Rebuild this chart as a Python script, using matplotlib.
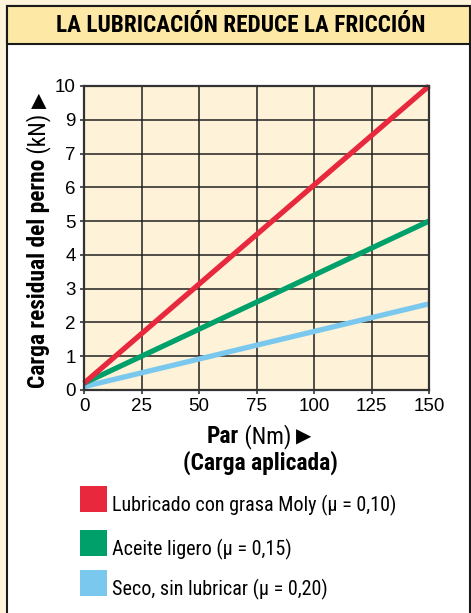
import matplotlib
matplotlib.use("Agg")
import matplotlib.pyplot as plt
from matplotlib import font_manager
from matplotlib.font_manager import FontProperties
from matplotlib.patches import Rectangle

# par aplicado (Nm) y carga residual (posición en la escala del eje)
par = [0, 150]
moly = [0.2, 9.0]
aceite = [0.2, 5.0]
seco = [0.1, 2.55]

x_ticks = [0, 25, 50, 75, 100, 125, 150]
y_ticks = [0, 1, 2, 3, 4, 5, 6, 7, 8, 9]
y_labels = ["0", "1", "2", "3", "4", "5", "6", "7", "9", "10"]

series = ["Lubricado con grasa Moly (μ = 0,10)",
          "Aceite ligero (μ = 0,15)",
          "Seco, sin lubricar (μ = 0,20)"]
colors = ["#e8283c", "#00a06a", "#7bc8ef"]

W, H = 471, 613
REG = ["Liberation Sans", "DejaVu Sans"]


def is_narrow(f):
    n = f.name
    if "Semi" in n or "Extra" in n or "Ultra" in n:
        return False
    return f.stretch == "condensed" or "Condensed" in n or "Narrow" in n


def pick(weight):
    # busca un fichero de fuente estrecha con el peso pedido
    fl = [f for f in font_manager.fontManager.ttflist
          if is_narrow(f) and f.style == "normal" and f.weight == weight]
    fl.sort(key=lambda f: (0 if "Liberation" in f.name else 1 if "Roboto" in f.name else 2, f.fname))
    if fl:
        return FontProperties(fname=fl[0].fname)
    return FontProperties(family=REG, weight="bold" if weight >= 700 else "normal")


FP_B = pick(700)
FP_R = pick(400)
FP_SYM = FontProperties(family="DejaVu Sans")

fig = plt.figure(figsize=(W / 100, H / 100), dpi=100, facecolor="#fef4dc")
rend = fig.canvas.get_renderer()


def fx(x):
    return x / W


def fy(y):
    return 1 - y / H


def box(x0, y0, x1, y1, **kw):
    fig.add_artist(Rectangle((fx(x0), fy(y1)), fx(x1) - fx(x0), fy(y0) - fy(y1),
                             transform=fig.transFigure, zorder=-5, **kw))


def txt(x, y, s, fp, size, **kw):
    fp = fp.copy()
    fp.set_size(size)
    return fig.text(x, y, s, fontproperties=fp, **kw)


def fit(t, target):
    # ajusta el tamaño de letra para que el texto ocupe 'target' píxeles de ancho
    t.set_fontsize(t.get_fontsize() * target / t.get_window_extent(rend).width)
    return t


# marco y cabecera
box(7, 6, 470, 640, facecolor="white", edgecolor="#1a1a1a", lw=1.5)
box(7, 6, 470, 44, facecolor="#fde8a6", edgecolor="#1a1a1a", lw=1.5)
fit(txt(fx(241), fy(25), "LA LUBRICACIÓN REDUCE LA FRICCIÓN", FP_B, 16,
        ha="center", va="center"), 368)

ax = fig.add_axes([fx(84), fy(390), fx(429) - fx(84), fy(86) - fy(390)])
ax.set_facecolor("#fef3d8")
ax.set_xlim(0, 150)
ax.set_ylim(0, 9)
ax.set_xticks(x_ticks)
ax.set_yticks(y_ticks)
ax.set_yticklabels(y_labels)
ax.grid(True, color="#222222", lw=1.1)
ax.set_axisbelow(True)
for s in ax.spines.values():
    s.set_color("#333333")
    s.set_linewidth(1.6)
ax.tick_params(length=3, width=1.2, color="#333333", labelsize=13.5, pad=3)
for lab in ax.get_xticklabels() + ax.get_yticklabels():
    lab.set_family(REG)

for ys, c in zip([seco, aceite, moly], colors[::-1]):
    ax.plot(par, ys, color=c, lw=3.8, solid_capstyle="butt", clip_on=False)

# título del eje Y en trozos (negrita + normal), girado
parts = [("Carga residual del perno", FP_B), (" (kN) ", FP_R), ("▶", FP_SYM)]
tmp = [txt(0, 0, p, fp, 14) for p, fp in parts]
total = sum(t.get_window_extent(rend).width for t in tmp)
fs = 14 * 300 / total
for t in tmp:
    t.remove()
yy = fy(388)
for p, fp in parts:
    sz = fs * 0.85 if fp is FP_SYM else fs
    t = txt(fx(45), yy, p, fp, sz, rotation=90, rotation_mode="anchor", ha="left",
            va="baseline")
    yy += t.get_window_extent(rend).height / fig.bbox.height

# título del eje X
parts = [("Par", FP_B), (" (Nm) ", FP_R), ("▶", FP_SYM)]
tmp = [txt(0, 0, p, fp, fs * 0.85 if fp is FP_SYM else fs) for p, fp in parts]
widths = [t.get_window_extent(rend).width for t in tmp]
for t in tmp:
    t.remove()
xx = fx(259) - sum(widths) / 2 / fig.bbox.width
for (p, fp), wd in zip(parts, widths):
    txt(xx, fy(443), p, fp, fs * 0.85 if fp is FP_SYM else fs, va="baseline")
    xx += wd / fig.bbox.width
txt(fx(260), fy(470), "(Carga aplicada)", FP_B, fs, ha="center", va="baseline")

# leyenda
tops = [486, 530, 570]
leg_fs = None
for top, c, name in zip(tops, colors, series):
    box(80, top, 107, top + 26, facecolor=c, edgecolor="none")
    t = txt(fx(112), fy(top + 25), name, FP_R, 14, ha="left", va="baseline")
    if leg_fs is None:
        fit(t, 286)
        leg_fs = t.get_fontsize()
    else:
        t.set_fontsize(leg_fs)

fig.savefig("out.png", dpi=100, facecolor=fig.get_facecolor())
